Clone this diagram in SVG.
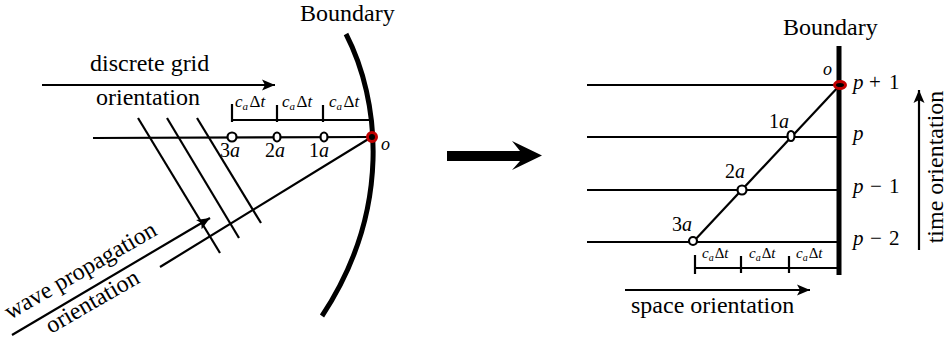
<svg xmlns="http://www.w3.org/2000/svg" width="949" height="345" viewBox="0 0 949 345" font-family="'Liberation Serif', 'DejaVu Serif', serif">
<style>
.t{font-size:24px;fill:#000}
.m{fill:#000}
.i{font-style:italic}
.ln{stroke:#000;stroke-width:2.2;fill:none}
.bd{stroke:#000;stroke-width:5;fill:none}
.pt{fill:#fff;stroke:#000;stroke-width:2.2}
.red{fill:#000;stroke:#c00000;stroke-width:3}
</style>
<defs>
<marker id="ah" markerWidth="14" markerHeight="12" refX="13" refY="6" orient="auto" markerUnits="userSpaceOnUse">
<path d="M0,0.5 L13,6 L0,11.5 L3,6 Z" fill="#000"/>
</marker>
</defs>
<rect width="949" height="345" fill="#fff"/>

<g id="left">
  <g id="boundary-left">
    <path class="bd" d="M346,34 C380,100 392,210 322,316"/>
    <text class="t" x="300" y="21">Boundary</text>
  </g>
  <g id="connectors-left">
    <line class="ln" x1="42" y1="85" x2="275" y2="85" marker-end="url(#ah)"/>
    <line class="ln" x1="93" y1="138" x2="372" y2="137"/>
    <line class="ln" x1="160" y1="267" x2="370" y2="138"/>
    <line class="ln" x1="12" y1="335" x2="210" y2="218" marker-end="url(#ah)"/>
    <line class="ln" x1="138" y1="118" x2="220" y2="253"/>
    <line class="ln" x1="167" y1="118" x2="239" y2="238"/>
    <line class="ln" x1="197" y1="118" x2="261" y2="223"/>
    <line class="ln" x1="232" y1="120" x2="370" y2="120"/>
    <line class="ln" x1="232" y1="104" x2="232" y2="122"/>
    <line class="ln" x1="277" y1="105" x2="277" y2="122"/>
    <line class="ln" x1="323" y1="105" x2="323" y2="122"/>
  </g>
  <g id="labels-left">
    <text class="t" x="90" y="71">discrete grid</text>
    <text class="t" x="96" y="105">orientation</text>
    <text class="t" transform="translate(10,320) rotate(-30)">wave propagation</text>
    <text class="t" transform="translate(51,334) rotate(-30)">orientation</text>
  </g>
  <g id="delta-left" class="m" font-size="17">
    <text x="235" y="107"><tspan class="i">c</tspan><tspan class="i" font-size="11" dy="3">a</tspan><tspan dy="-3" dx="1.5">Δ</tspan><tspan class="i">t</tspan></text>
    <text x="282" y="107"><tspan class="i">c</tspan><tspan class="i" font-size="11" dy="3">a</tspan><tspan dy="-3" dx="1.5">Δ</tspan><tspan class="i">t</tspan></text>
    <text x="329" y="107"><tspan class="i">c</tspan><tspan class="i" font-size="11" dy="3">a</tspan><tspan dy="-3" dx="1.5">Δ</tspan><tspan class="i">t</tspan></text>
  </g>
  <g id="pt-3a-left">
    <circle class="pt" cx="232" cy="137" r="4.5"/>
    <text class="m" font-size="20" x="220" y="157">3<tspan class="i">a</tspan></text>
  </g>
  <g id="pt-2a-left">
    <ellipse class="pt" cx="277" cy="137" rx="3.5" ry="4.5"/>
    <text class="m" font-size="20" x="265" y="157">2<tspan class="i">a</tspan></text>
  </g>
  <g id="pt-1a-left">
    <ellipse class="pt" cx="324" cy="137" rx="3.5" ry="4.5"/>
    <text class="m" font-size="20" x="309" y="157">1<tspan class="i">a</tspan></text>
  </g>
  <g id="pt-o-left">
    <circle class="red" cx="372" cy="137" r="4.5"/>
    <text class="m i" font-size="18" x="381" y="150">o</text>
  </g>
</g>

<g id="big-arrow">
  <path d="M447,151 L520,151 L512,141 L542,155.5 L512,170 L520,161 L447,161 Z" fill="#000"/>
</g>

<g id="right">
  <g id="boundary-right">
    <line class="bd" x1="839" y1="46" x2="839" y2="275"/>
    <text class="t" x="783" y="35">Boundary</text>
  </g>
  <g id="connectors-right">
    <line class="ln" x1="587" y1="85" x2="839" y2="85"/>
    <line class="ln" x1="587" y1="137" x2="839" y2="137"/>
    <line class="ln" x1="587" y1="190" x2="839" y2="190"/>
    <line class="ln" x1="587" y1="242" x2="839" y2="242"/>
    <line class="ln" x1="693" y1="242" x2="840" y2="85"/>
    <line class="ln" x1="695" y1="268" x2="839" y2="268"/>
    <line class="ln" x1="695" y1="255" x2="695" y2="274"/>
    <line class="ln" x1="741" y1="256" x2="741" y2="273"/>
    <line class="ln" x1="789" y1="256" x2="789" y2="273"/>
    <line class="ln" x1="625" y1="290" x2="810" y2="290" marker-end="url(#ah)"/>
    <line class="ln" x1="919" y1="250" x2="919" y2="90" marker-end="url(#ah)"/>
  </g>
  <g id="delta-right" class="m" font-size="15">
    <text x="702" y="258"><tspan class="i">c</tspan><tspan class="i" font-size="10" dy="2.5">a</tspan><tspan dy="-2.5" dx="1">Δ</tspan><tspan class="i">t</tspan></text>
    <text x="749" y="258"><tspan class="i">c</tspan><tspan class="i" font-size="10" dy="2.5">a</tspan><tspan dy="-2.5" dx="1">Δ</tspan><tspan class="i">t</tspan></text>
    <text x="796" y="258"><tspan class="i">c</tspan><tspan class="i" font-size="10" dy="2.5">a</tspan><tspan dy="-2.5" dx="1">Δ</tspan><tspan class="i">t</tspan></text>
  </g>
  <g id="pt-o-right">
    <ellipse class="red" cx="840" cy="85" rx="5.5" ry="3.5"/>
    <text class="m i" font-size="18" x="823" y="75">o</text>
  </g>
  <g id="pt-1a-right">
    <ellipse class="pt" cx="791" cy="136" rx="3.5" ry="5"/>
    <text class="m" font-size="20" x="769" y="128">1<tspan class="i">a</tspan></text>
  </g>
  <g id="pt-2a-right">
    <circle class="pt" cx="742" cy="190" r="4.5"/>
    <text class="m" font-size="20" x="725" y="178">2<tspan class="i">a</tspan></text>
  </g>
  <g id="pt-3a-right">
    <circle class="pt" cx="693" cy="241" r="4"/>
    <text class="m" font-size="20" x="672" y="231">3<tspan class="i">a</tspan></text>
  </g>
  <g id="time-labels" class="m" font-size="21">
    <text y="89"><tspan class="i" x="853">p</tspan><tspan x="869">+</tspan><tspan x="889">1</tspan></text>
    <text y="140"><tspan class="i" x="853">p</tspan></text>
    <text y="193"><tspan class="i" x="853">p</tspan><tspan x="870">−</tspan><tspan x="889">1</tspan></text>
    <text y="245"><tspan class="i" x="853">p</tspan><tspan x="870">−</tspan><tspan x="889">2</tspan></text>
  </g>
  <g id="axis-labels">
    <text class="t" x="631" y="313">space orientation</text>
    <text class="t" transform="translate(943,167) rotate(-90)" text-anchor="middle">time orientation</text>
  </g>
</g>
</svg>
